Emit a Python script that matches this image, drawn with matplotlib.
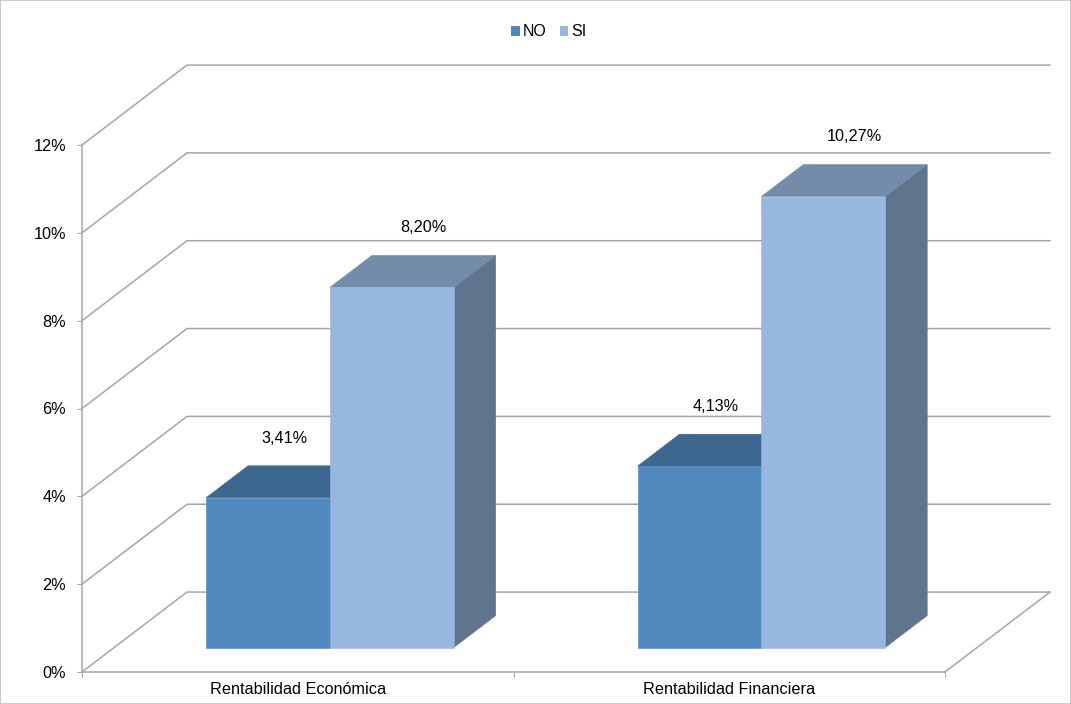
import matplotlib.pyplot as plt
import numpy as np
from matplotlib.patches import Patch, Rectangle

plt.rcParams['font.family'] = ['Liberation Sans', 'DejaVu Sans']

# datos: rentabilidad media (%) por grupo
categorias = ['Rentabilidad Económica', 'Rentabilidad Financiera']
series = ['NO', 'SI']
valores_no = [3.41, 4.13]
valores_si = [8.20, 10.27]

# colores de cada serie: frente, techo, lateral
colores = {
    'NO': ('#4f88bc', '#3c6890', '#3b5f86'),
    'SI': ('#97b7e0', '#728caa', '#5f758e'),
}

# proyección oblicua tipo Excel (desplazamiento de fondo en unidades de datos)
DX = 0.2433
DY = 1.82
D0 = 0.306      # profundidad donde empieza la barra
DB = 0.40       # profundidad de la barra
ANCHO = 0.287   # ancho de cada barra (unidades de categoría)
GRIS = '#a6a6a6'
FS = 11.7


def proy(x, y, d):
    return x + d * DX, y + d * DY


fig = plt.figure(figsize=(10.71, 7.04), dpi=100)
ax = fig.add_axes([82 / 1071, 32 / 704, 863 / 1071, 527 / 704])
ax.set_xlim(0, len(categorias))
ax.set_ylim(0, 12)

# paredes: lateral izquierda, fondo y suelo
for y in np.arange(0, 13, 2):
    x0, y0 = proy(0, y, 0)
    x1, y1 = proy(0, y, 1)
    x2, y2 = proy(len(categorias), y, 1)
    ax.plot([x0, x1, x2], [y0, y1, y2], color=GRIS, lw=1.1, clip_on=False, zorder=1)
xa, ya = proy(len(categorias), 0, 0)
xb, yb = proy(len(categorias), 0, 1)
ax.plot([xa, xb], [ya, yb], color=GRIS, lw=1.1, clip_on=False, zorder=1)


def barra(x, valor, col):
    frente, techo, lado = col
    p = [proy(x, 0, D0), proy(x + ANCHO, 0, D0), proy(x + ANCHO, valor, D0), proy(x, valor, D0)]
    t = [proy(x, valor, D0), proy(x + ANCHO, valor, D0),
         proy(x + ANCHO, valor, D0 + DB), proy(x, valor, D0 + DB)]
    s = [proy(x + ANCHO, 0, D0), proy(x + ANCHO, 0, D0 + DB),
         proy(x + ANCHO, valor, D0 + DB), proy(x + ANCHO, valor, D0)]
    for poly, c in ((s, lado), (t, techo), (p, frente)):
        xs, ys = zip(*poly)
        ax.fill(xs, ys, facecolor=c, edgecolor=c, lw=0.4, clip_on=False, zorder=3)


etiqueta_dx = {'NO': 12, 'SI': 22.5}
for i, cat in enumerate(categorias):
    centro = i + 0.5
    for j, (serie, vals) in enumerate(zip(series, [valores_no, valores_si])):
        x = centro - ANCHO + j * ANCHO
        barra(x, vals[i], colores[serie])
        xt, yt = proy(x + ANCHO / 2, vals[i], D0)
        ax.annotate(f'{vals[i]:.2f}'.replace('.', ',') + '%', xy=(xt, yt),
                    xytext=(etiqueta_dx[serie], 43), textcoords='offset points',
                    ha='center', va='center', fontsize=FS, color='#000000',
                    annotation_clip=False, zorder=5)

# ejes
for s in ('top', 'right'):
    ax.spines[s].set_visible(False)
for s in ('left', 'bottom'):
    ax.spines[s].set_color(GRIS)
    ax.spines[s].set_linewidth(1.1)

ax.set_yticks(np.arange(0, 13, 2))
ax.set_yticklabels([f'{int(v)}%' for v in np.arange(0, 13, 2)])
ax.set_xticks(np.arange(0, len(categorias) + 1))
ax.set_xticklabels([])
ax.set_xticks(np.arange(len(categorias)) + 0.5, minor=True)
ax.set_xticklabels(categorias, minor=True)
ax.tick_params(axis='y', direction='out', length=3.5, color=GRIS, pad=8, labelsize=FS)
ax.tick_params(axis='x', which='major', direction='out', length=3.5, color=GRIS)
ax.tick_params(axis='x', which='minor', length=0, pad=7.5, labelsize=FS)

# leyenda
handles = [Patch(facecolor=colores[s][0], edgecolor='none') for s in series]
fig.legend(handles, series, loc='center', bbox_to_anchor=(549 / 1071, 1 - 32 / 704),
           ncol=2, frameon=False, fontsize=11.5, handlelength=0.55, handleheight=0.55,
           handletextpad=0.2, columnspacing=0.8)

fig.patches.append(Rectangle((0, 0), 1, 1, transform=fig.transFigure, fill=False,
                             edgecolor='#c0c0c0', lw=1.2))

fig.savefig('out.png', dpi=100)
